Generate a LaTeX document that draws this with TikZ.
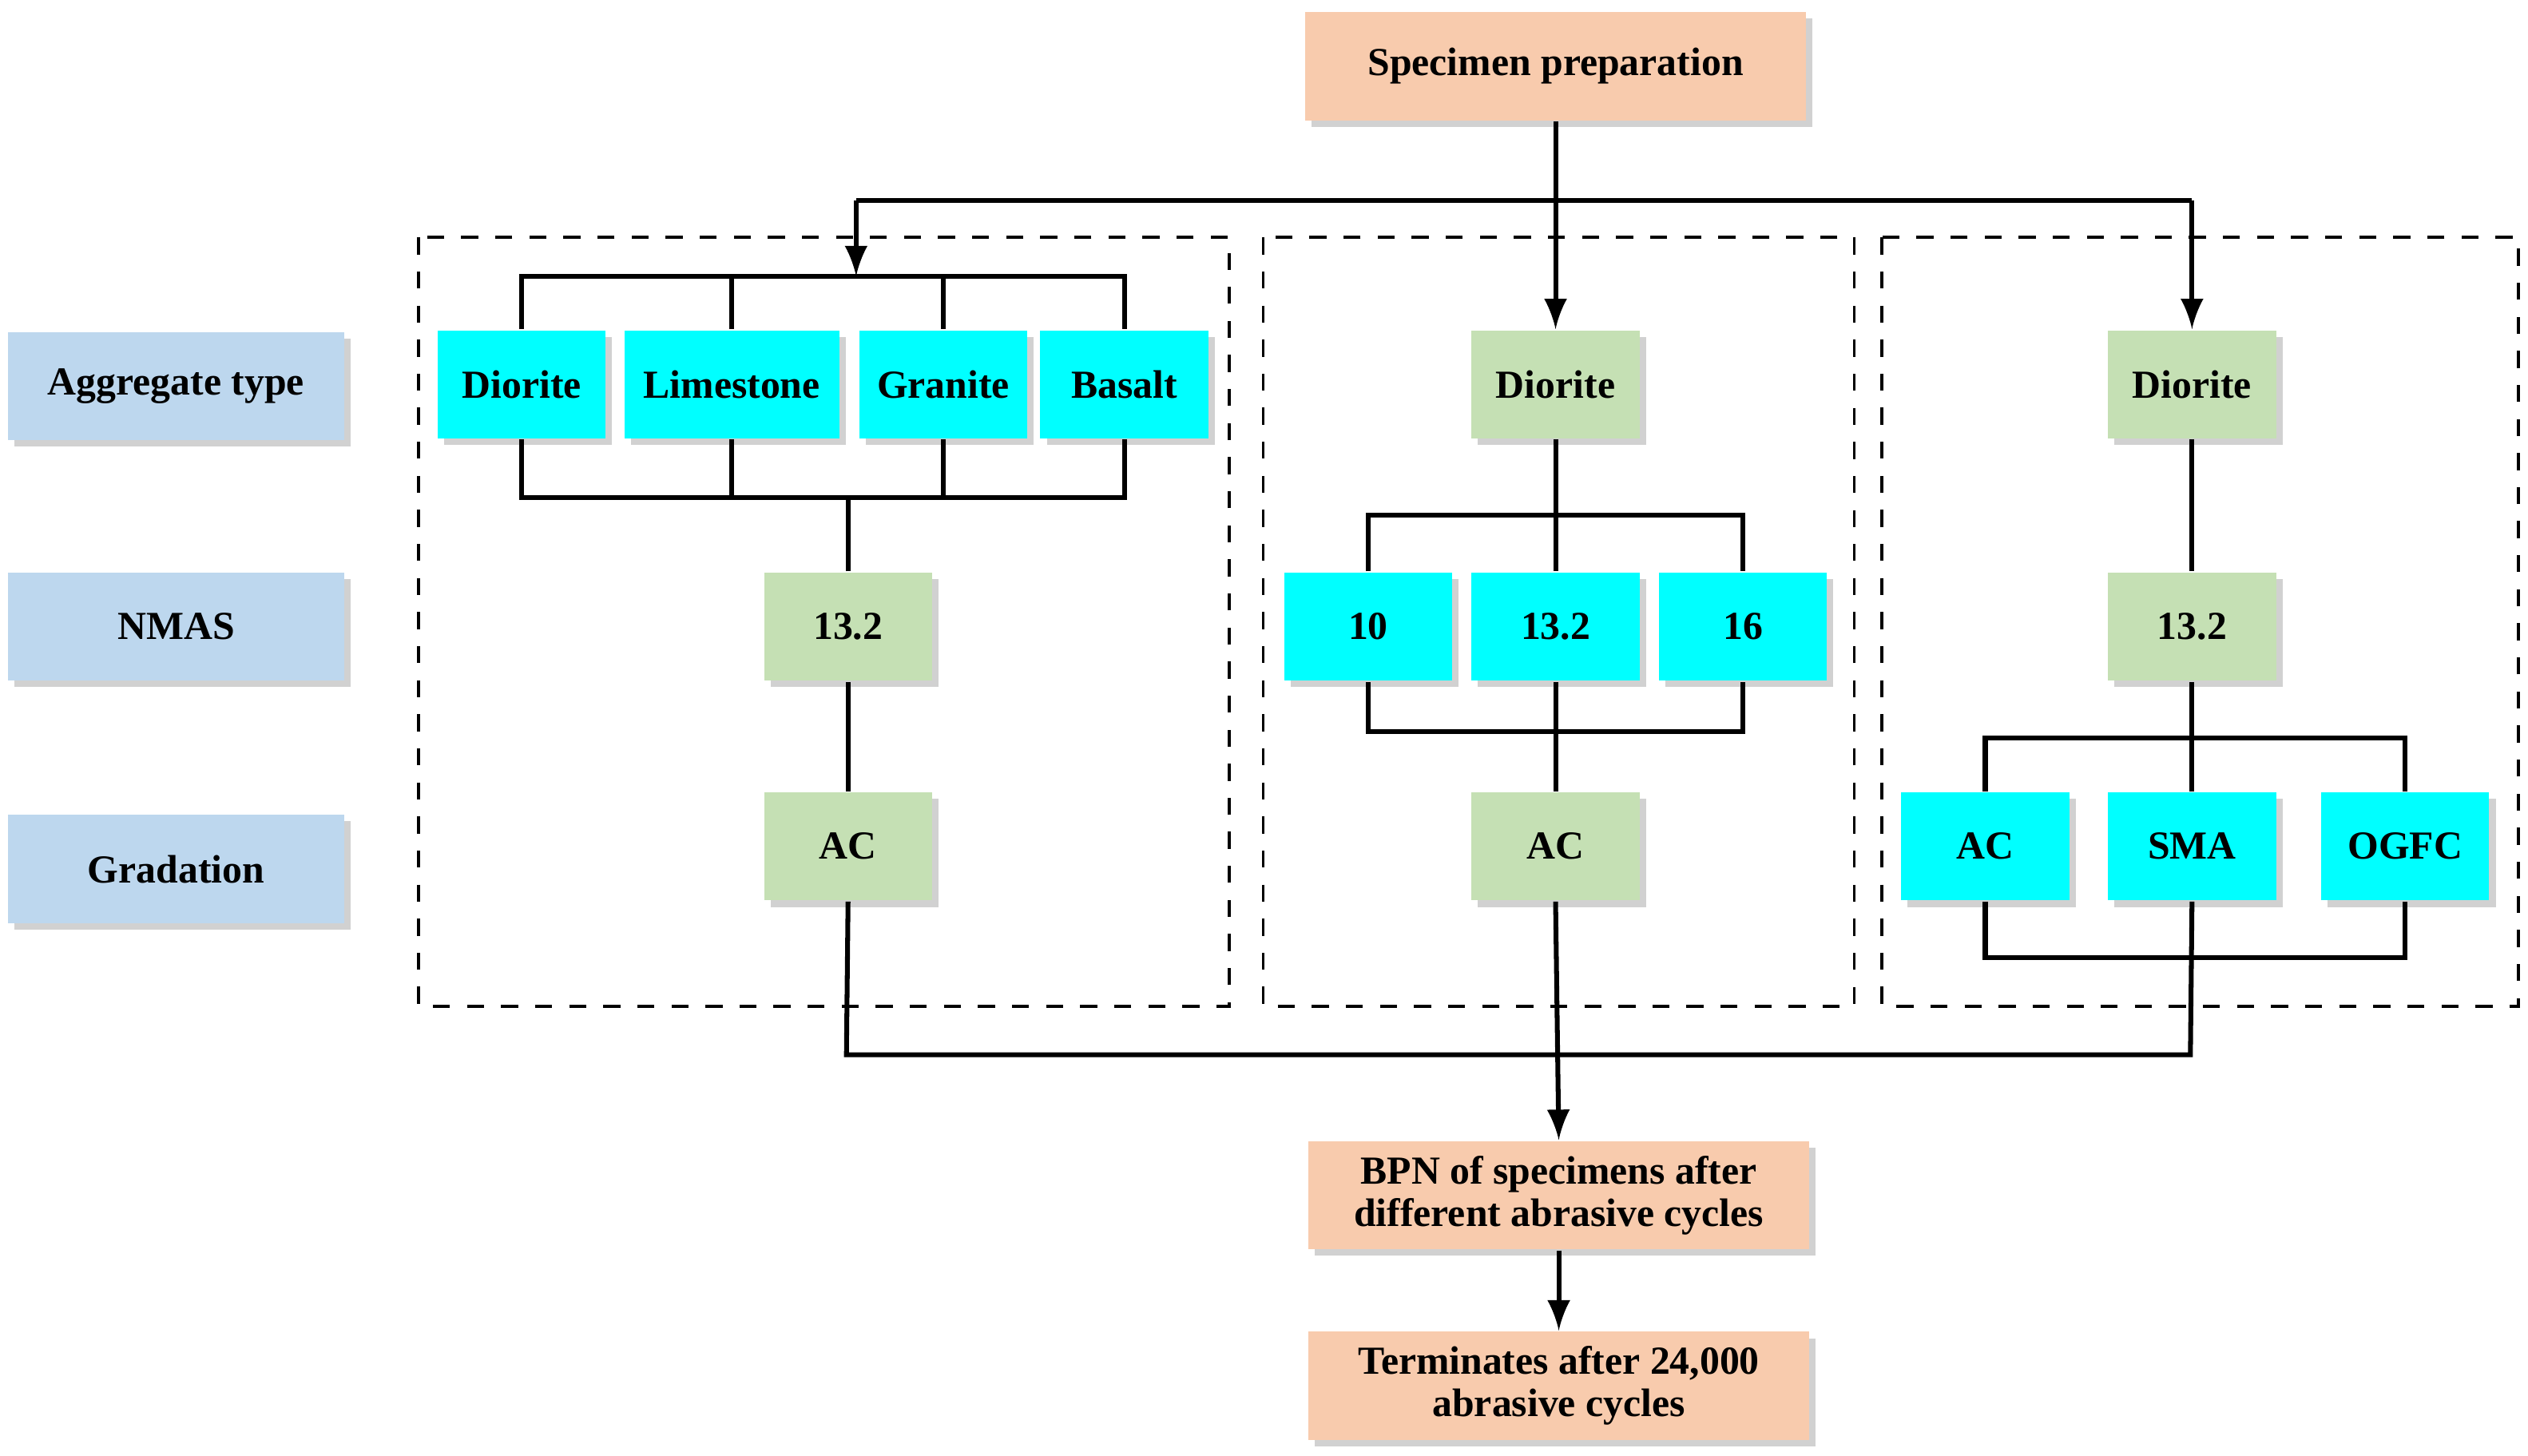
\documentclass[tikz,border=0pt]{standalone}
\usepackage{fontspec}
\setmainfont{Liberation Serif}
\usetikzlibrary{positioning,shadows}
\definecolor{peach}{HTML}{F8CBAD}
\definecolor{lblue}{HTML}{BDD7EE}
\definecolor{lgreen}{HTML}{C5E0B4}
\definecolor{aqua}{HTML}{00FFFF}
\tikzset{
	box/.style={minimum height=6.7mm, inner sep=1pt, font=\fontsize{7}{8.5}\selectfont\bfseries,
		drop shadow={shadow xshift=0.4mm, shadow yshift=-0.4mm, fill=black!18, opacity=1}},
	stage/.style={box, fill=peach, minimum width=31mm, align=center},
	lab/.style={box, fill=lblue, minimum width=20.8mm},
	fix/.style={box, fill=lgreen, minimum width=10.4mm},
	var/.style={box, fill=aqua, minimum width=10.4mm},
	ln/.style={line width=0.85pt},
	arr/.style={ln, -latex},
	group/.style={dashed, line width=0.5pt}
}
\begin{document}
\begin{tikzpicture}[x=0.1mm, y=-0.1mm]
	\useasboundingbox (0,0) rectangle (1565,901);

	\node[stage] (prep) at (963,41) {Specimen preparation};
	\node[stage] (bpn) at (965,740) {BPN of specimens after\\[-1pt]different abrasive cycles};
	\node[stage] (term) at (965,858) {Terminates after 24,000\\[-1pt]abrasive cycles};

	\node[lab] (agg) at (109,239) {Aggregate type};
	\node[lab] (nmas) at (109,388) {NMAS};
	\node[lab] (grad) at (109,538) {Gradation};

	\draw[group] (259,147) rectangle (761,623);
	\draw[group] (782,147) rectangle (1148,623);
	\draw[group] (1165,147) rectangle (1559,623);

	% group 1
	\node[var] (dio) at (323,238) {Diorite};
	\node[var, minimum width=13.3mm] (lime) at (453,238) {Limestone};
	\node[var] (gra) at (584,238) {Granite};
	\node[var] (bas) at (696,238) {Basalt};
	\node[fix] (na) at (525,388) {13.2};
	\node[fix] (ga) at (525,524) {AC};

	% group 2
	\node[fix] (dio2) at (963,238) {Diorite};
	\node[var] (n10) at (847,388) {10};
	\node[var] (n13) at (963,388) {13.2};
	\node[var] (n16) at (1079,388) {16};
	\node[fix] (gb) at (963,524) {AC};

	% group 3
	\node[fix] (dio3) at (1357,238) {Diorite};
	\node[fix] (nc) at (1357,388) {13.2};
	\node[var] (ac) at (1229,524) {AC};
	\node[var] (sma) at (1357,524) {SMA};
	\node[var] (ogfc) at (1489,524) {OGFC};

	% input
	\coordinate (t1) at (530,124);
	\coordinate (t3) at (1357,124);
	\draw[ln] (prep.south) -- (prep.south |- t1);
	\draw[ln] (t1) -- (t3);
	\draw[arr] (t1) -- (530,171);
	\draw[arr] (prep.south) -- (dio2.north);
	\draw[arr] (t3) -- (dio3.north);

	% brackets
	\draw[ln] (dio.north) -- (dio.north |- 0,171) -| (bas.north);
	\draw[ln] (lime.north) -- (lime.north |- 0,171);
	\draw[ln] (gra.north) -- (gra.north |- 0,171);
	\draw[ln] (dio.south) -- (dio.south |- 0,308) -| (bas.south);
	\draw[ln] (lime.south) -- (lime.south |- 0,308);
	\draw[ln] (gra.south) -- (gra.south |- 0,308);
	\draw[ln] (na.north) -- (na.north |- 0,308);
	\draw[ln] (na) -- (ga);

	\draw[ln] (dio2) -- (n13);
	\draw[ln] (n10.north) -- (n10.north |- 0,319) -| (n16.north);
	\draw[ln] (n10.south) -- (n10.south |- 0,453) -| (n16.south);
	\draw[ln] (n13) -- (gb);

	\draw[ln] (dio3) -- (nc);
	\draw[ln] (nc) -- (sma);
	\draw[ln] (ac.north) -- (ac.north |- 0,457) -| (ogfc.north);
	\draw[ln] (ac.south) -- (ac.south |- 0,593) -| (ogfc.south);

	% output
	\coordinate (o1) at (524,653);
	\coordinate (o3) at (1356,653);
	\draw[ln] (ga.south) -- (o1) -- (o3) -- (sma.south);
	\draw[arr] (gb.south) -- (bpn.north);
	\draw[arr] (bpn) -- (term);
\end{tikzpicture}
\end{document}
